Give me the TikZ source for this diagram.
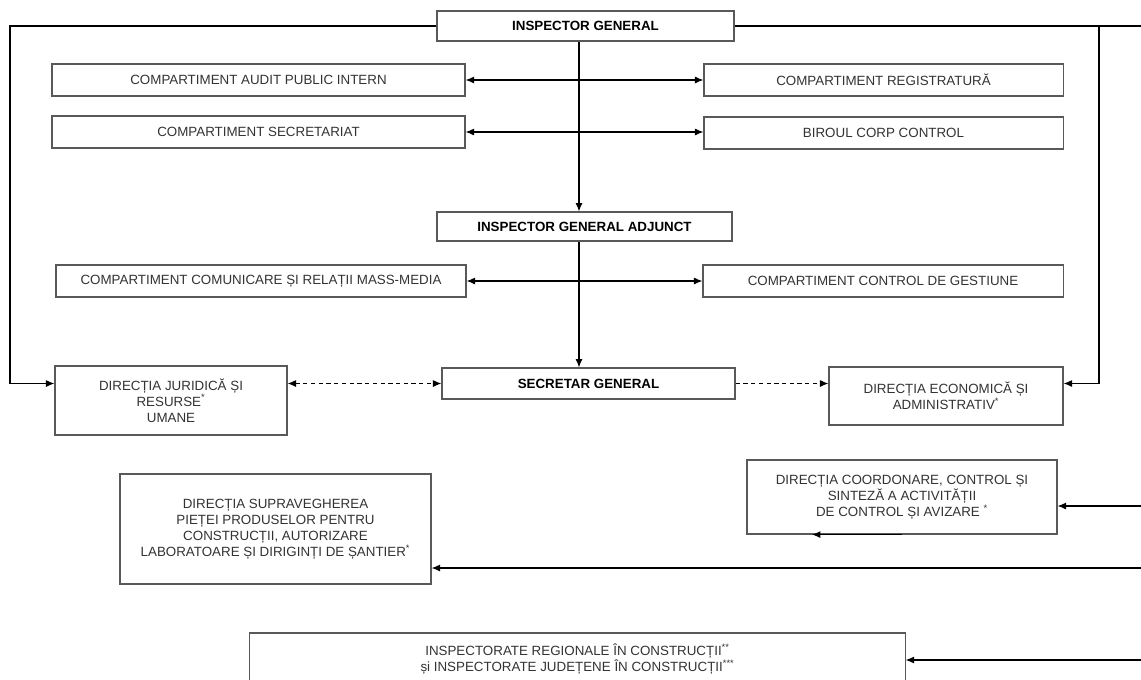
\documentclass[tikz,border=0pt]{standalone}
\usepackage{fontspec}
\setmainfont{Liberation Sans}
\usepackage{tikz}
\usetikzlibrary{arrows.meta}
\usetikzlibrary{shapes,arrows}
\tikzstyle{box} = [draw=black!65, line width=0.8pt, fill=white, text=black!80, align=center, inner sep=1pt, font=\fontsize{9.5}{11.5}\selectfont]
\tikzstyle{bbox} = [box, text=black, font=\fontsize{9.5}{11.5}\selectfont\bfseries]
\tikzstyle{arrow} = [line width=0.8pt, ->, >={Latex[length=6pt,width=5pt]}]
\tikzstyle{darrow} = [arrow, <->]
\tikzstyle{dotarrow} = [arrow, dash pattern=on 3pt off 2.5pt]

\begin{document}
\begin{tikzpicture}[x=0.025cm, y=-0.025cm]
\clip (0,0) rectangle (1141,679);
\fill[white] (0,0) rectangle (1141,679);

\coordinate (lft) at (10,0);
\coordinate (rgt) at (1099,0);
\coordinate (trk) at (579,0);
\coordinate (edge) at (1141,0);
\coordinate (tip) at (812,0);
\coordinate (e1) at (1141,506);
\coordinate (e2) at (1141,568);
\coordinate (e3) at (1141,660);

\node[bbox, minimum width=7.425cm, minimum height=0.75cm] (ig) at (585.5,26) {INSPECTOR GENERAL};
\node[box, minimum width=10.325cm, minimum height=0.8cm] (capi) at (258.5,80) {COMPARTIMENT AUDIT PUBLIC INTERN};
\node[box, minimum width=8.975cm, minimum height=0.8cm] (cr) at (883.5,80) {COMPARTIMENT REGISTRATURĂ};
\node[box, minimum width=10.325cm, minimum height=0.8cm] (cs) at (258.5,132) {COMPARTIMENT SECRETARIAT};
\node[box, minimum width=8.975cm, minimum height=0.8cm] (bcc) at (883.5,133) {BIROUL CORP CONTROL};
\node[bbox, minimum width=7.375cm, minimum height=0.725cm] (iga) at (584.5,226.5) {INSPECTOR GENERAL ADJUNCT};
\node[box, minimum width=10.25cm, minimum height=0.8cm] (ccrm) at (261,281) {COMPARTIMENT COMUNICARE ȘI RELAȚII MASS-MEDIA};
\node[box, minimum width=9cm, minimum height=0.8cm] (ccg) at (883,281) {COMPARTIMENT CONTROL DE GESTIUNE};
\node[bbox, minimum width=7.325cm, minimum height=0.775cm] (sg) at (588.5,383.5) {SECRETAR GENERAL};
\node[box, minimum width=5.8cm, minimum height=1.725cm] (dj) at (171,400.5) {DIRECȚIA JURIDICĂ ȘI\\RESURSE\textsuperscript{*}\\UMANE};
\node[box, minimum width=5.85cm, minimum height=1.45cm] (de) at (946,396) {DIRECȚIA ECONOMICĂ ȘI\\ADMINISTRATIV\textsuperscript{*}};
\node[box, minimum width=7.75cm, minimum height=1.85cm] (dcc) at (902,497) {DIRECȚIA COORDONARE, CONTROL ȘI\\SINTEZĂ A ACTIVITĂȚII\\DE CONTROL ȘI AVIZARE \textsuperscript{*}};
\node[box, minimum width=7.775cm, minimum height=2.75cm] (dsp) at (275.5,529) {DIRECȚIA SUPRAVEGHEREA\\PIEȚEI PRODUSELOR PENTRU\\CONSTRUCȚII, AUTORIZARE\\LABORATOARE ȘI DIRIGINȚI DE ȘANTIER\textsuperscript{*}};
\node[box, minimum width=16.375cm, minimum height=1.3cm] (ir) at (577.5,659) {INSPECTORATE REGIONALE ÎN CONSTRUCȚII\textsuperscript{**}\\și INSPECTORATE JUDEȚENE ÎN CONSTRUCȚII\textsuperscript{***}};

\draw[arrow] (ig.west) -| (lft |- sg) -- (dj.west |- sg);
\draw[line width=0.8pt] (ig.east) -- (ig.east -| edge);
\draw[arrow] (ig.east -| rgt) -- (rgt |- sg) -- (de.east |- sg);
\draw[arrow] (ig.south -| trk) -- (iga.north -| trk);
\draw[arrow] (iga.south -| trk) -- (sg.north -| trk);
\draw[darrow] (capi.east) -- (cr.west);
\draw[darrow] (cs.east) -- (bcc.west |- cs.east);
\draw[darrow] (ccrm.east) -- (ccg.west);
\draw[dotarrow, <->] (dj.east |- sg) -- (sg.west);
\draw[dotarrow] (sg.east) -- (de.west |- sg);
\draw[arrow] (e1) -- (e1 -| dcc.east);
\draw[arrow] (e2) -- (e2 -| dsp.east);
\draw[arrow] (e3) -- (e3 -| ir.east);
\draw[arrow] (dcc.south) -- (dcc.south -| tip);
\end{tikzpicture}
\end{document}
